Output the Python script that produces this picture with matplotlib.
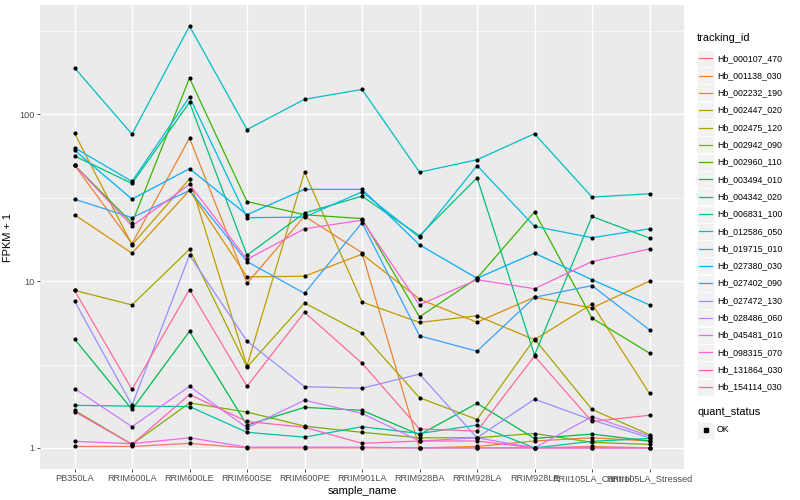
import numpy as np
import matplotlib.pyplot as plt
from matplotlib.lines import Line2D
from matplotlib.patches import Rectangle

plt.rcParams['font.family'] = ['Liberation Sans', 'DejaVu Sans']

samples = ['PB350LA', 'RRIM600LA', 'RRIM600LE', 'RRIM600SE', 'RRIM600PE', 'RRIM901LA',
           'RRIM928BA', 'RRIM928LA', 'RRIM928LE', 'RRII105LA_Control', 'RRII105LA_Stressed']

tracking_ids = ['Hb_000107_470', 'Hb_001138_030', 'Hb_002232_190', 'Hb_002447_020',
                'Hb_002475_120', 'Hb_002942_090', 'Hb_002960_110', 'Hb_003494_010',
                'Hb_004342_020', 'Hb_006831_100', 'Hb_012586_050', 'Hb_019715_010',
                'Hb_027380_030', 'Hb_027402_090', 'Hb_027472_130', 'Hb_028486_060',
                'Hb_045481_010', 'Hb_098315_070', 'Hb_131864_030', 'Hb_154114_030']

# FPKM + 1, одна строка на tracking_id, по порядку samples
hb_000107_470 = [1.02, 1.02, 1.065, 1.0, 1.0, 1.0, 1.0, 1.0, 1.0, 1.02, 1.0]
hb_001138_030 = [49.6, 16.8, 72, 9.7, 24.5, 14.8, 1.0, 1.02, 1.1, 1.15, 1.1]
hb_002232_190 = [25, 14.7, 35, 10.6, 10.7, 14.5, 7.8, 5.67, 8.0, 6.9, 10]
hb_002447_020 = [77, 16.5, 41, 3.1, 45, 7.5, 5.65, 6.2, 4.45, 7.3, 2.12]
hb_002475_120 = [8.8, 7.2, 15.5, 3.05, 7.4, 4.86, 2.0, 1.48, 4.5, 1.7, 1.2]
hb_002942_090 = [1.68, 1.05, 1.86, 1.64, 1.35, 1.24, 1.15, 1.15, 1.22, 1.08, 1.05]
hb_002960_110 = [49.6, 22.3, 165, 30, 25, 23.7, 6.1, 10.4, 26, 6.0, 3.7]
hb_003494_010 = [4.5, 1.7, 5.0, 1.37, 1.75, 1.68, 1.2, 1.85, 1.14, 1.21, 1.1]
hb_004342_020 = [56.3, 38.5, 118, 14.3, 25.6, 32.3, 18.7, 41.6, 3.6, 24.4, 18.1]
hb_006831_100 = [1.8, 1.78, 1.77, 1.24, 1.16, 1.34, 1.22, 1.37, 1.0, 1.095, 1.14]
hb_012586_050 = [190, 76, 338, 81, 123, 141, 45, 53.4, 76.5, 31.9, 33.4]
hb_019715_010 = [63, 39.6, 127, 24, 24.2, 34.3, 18.3, 49.3, 21.3, 18.2, 20.6]
hb_027380_030 = [61, 31, 47.2, 25, 35.5, 35.5, 16.5, 10.4, 14.7, 10.2, 7.2]
hb_027402_090 = [31, 24, 35, 13.1, 8.45, 22.4, 4.7, 3.8, 8.0, 9.4, 5.1]
hb_027472_130 = [7.6, 1.8, 14.3, 4.37, 2.33, 2.28, 2.77, 1.15, 1.96, 1.47, 1.15]
hb_028486_060 = [2.27, 1.34, 2.34, 1.32, 1.93, 1.61, 1.1, 1.15, 1.0, 1.54, 1.18]
hb_045481_010 = [1.095, 1.06, 1.15, 1.01, 1.01, 1.01, 1.0, 1.0, 1.0, 1.0, 1.0]
hb_098315_070 = [49.6, 21.4, 38, 13.5, 20.6, 23.2, 7.2, 10.2, 9.0, 13.1, 15.6]
hb_131864_030 = [1.65, 1.05, 2.09, 1.44, 1.33, 1.065, 1.1, 1.1, 1.0, 1.0, 1.0]
hb_154114_030 = [8.8, 2.24, 8.9, 2.34, 6.5, 3.22, 1.3, 1.26, 3.55, 1.44, 1.57]

series = [hb_000107_470, hb_001138_030, hb_002232_190, hb_002447_020, hb_002475_120,
          hb_002942_090, hb_002960_110, hb_003494_010, hb_004342_020, hb_006831_100,
          hb_012586_050, hb_019715_010, hb_027380_030, hb_027402_090, hb_027472_130,
          hb_028486_060, hb_045481_010, hb_098315_070, hb_131864_030, hb_154114_030]


def hcl_hex(h, c=100, l=65):  # палитра как hue_pal() в ggplot
    hr = np.radians(h)
    u, v = c * np.cos(hr), c * np.sin(hr)
    xn, yn, zn = 95.047, 100.0, 108.883
    y = yn * ((l + 16) / 116) ** 3
    d = xn + 15 * yn + 3 * zn
    up = u / (13 * l) + 4 * xn / d
    vp = v / (13 * l) + 9 * yn / d
    x = 9 * y * up / (4 * vp)
    z = -x / 3 - 5 * y + 3 * y / vp
    m = np.array([[3.240479, -1.537150, -0.498535],
                  [-0.969256, 1.875992, 0.041556],
                  [0.055648, -0.204043, 1.057311]])
    rgb = m.dot(np.array([x, y, z]) / 100)
    rgb = np.where(rgb > 0.00304, 1.055 * np.abs(rgb) ** (1 / 2.4) - 0.055, 12.92 * rgb)
    return tuple(np.clip(rgb, 0, 1))


n = len(tracking_ids)
colors = [hcl_hex(15 + 360 / n * i) for i in range(n)]

W, H = 800, 500
fig = plt.figure(figsize=(8, 5), dpi=100)
ax = fig.add_axes([40 / W, 31 / H, 644 / W, 464 / H])
ax.set_facecolor('#EBEBEB')

x = np.arange(len(samples))
for vals, col in zip(series, colors):
    ax.plot(x, vals, color=col, lw=0.9, zorder=3)
for vals in series:
    ax.scatter(x, vals, color='black', s=9, zorder=4, linewidths=0)

ax.set_yscale('log')
allv = np.log10(np.concatenate(series))
lo, hi = allv.min(), allv.max()
pad = 0.05 * (hi - lo)
ax.set_ylim(10 ** (lo - pad), 10 ** (hi + pad))
ax.set_xlim(-0.6, len(samples) - 0.4)

ax.set_yticks([1, 10, 100])
ax.set_yticklabels(['1', '10', '100'])
ax.set_yticks([10 ** 0.5, 10 ** 1.5, 10 ** 2.5], minor=True)
ax.yaxis.set_minor_formatter(plt.NullFormatter())
ax.set_xticks(x)
ax.set_xticklabels(samples)
ax.grid(True, which='major', color='white', lw=1.0, zorder=1)
ax.grid(True, which='minor', axis='y', color='white', lw=0.45, zorder=1)
ax.set_axisbelow(True)
ax.tick_params(which='major', length=2.2, width=0.6, color='#333333', labelcolor='#4D4D4D',
               labelsize=6.6, pad=1.5)
ax.tick_params(which='minor', length=0)
for s in ax.spines.values():
    s.set_visible(False)

ax.set_xlabel('sample_name', fontsize=7.9, labelpad=2)
ax.set_ylabel('FPKM + 1', fontsize=7.9, labelpad=5)

# Легенда tracking_id
fig.text(697 / W, 1 - 38 / H, 'tracking_id', fontsize=7.9, va='center', ha='left')
for i, (tid, col) in enumerate(zip(tracking_ids, colors)):
    yc = 58.3 + 17.3 * i
    fig.patches.append(Rectangle((697 / W, 1 - (yc + 8.5) / H), 17 / W, 17 / H,
                                 transform=fig.transFigure, facecolor='#F2F2F2',
                                 edgecolor='white', lw=0.5))
    fig.lines.append(Line2D([699 / W, 712 / W], [1 - yc / H, 1 - yc / H],
                            transform=fig.transFigure, color=col, lw=0.9))
    fig.text(717 / W, 1 - yc / H, tid, fontsize=6.3, va='center', ha='left')

# Легенда quant_status
fig.text(697 / W, 1 - 412 / H, 'quant_status', fontsize=7.9, va='center', ha='left')
fig.patches.append(Rectangle((697 / W, 1 - 438.5 / H), 17 / W, 17 / H,
                             transform=fig.transFigure, facecolor='#F2F2F2',
                             edgecolor='white', lw=0.5))
fig.lines.append(Line2D([705.5 / W], [1 - 430 / H], transform=fig.transFigure,
                        marker='s', markersize=2.8, color='black', linestyle='none'))
fig.text(717 / W, 1 - 430 / H, 'OK', fontsize=6.3, va='center', ha='left')

fig.savefig('out.png', dpi=100)
